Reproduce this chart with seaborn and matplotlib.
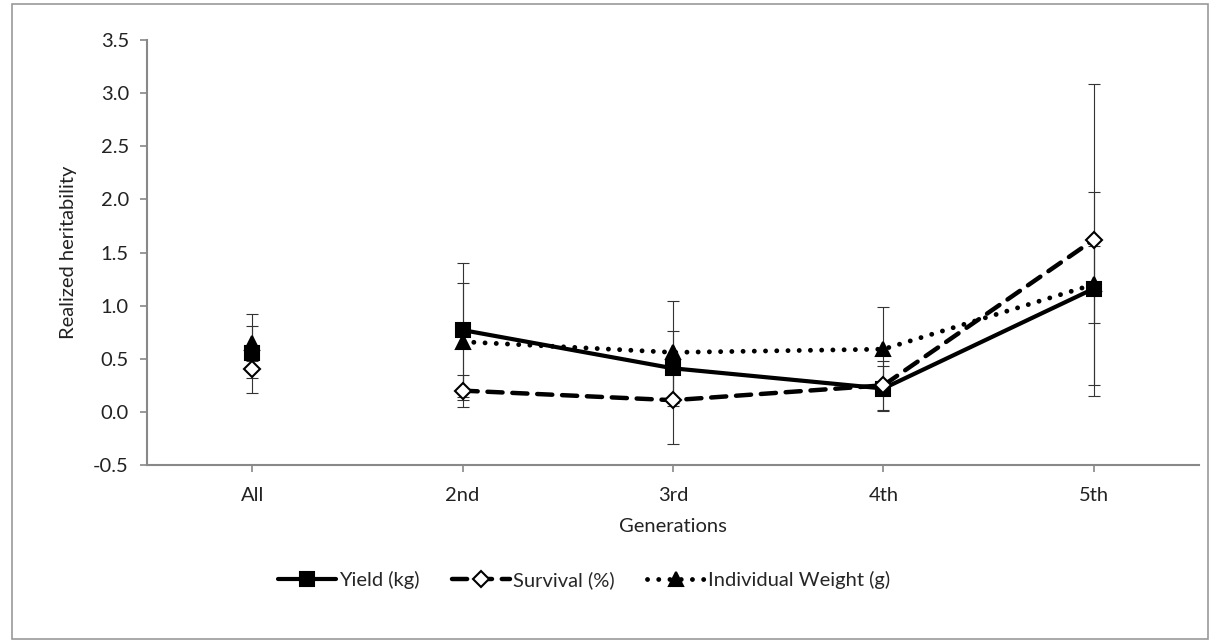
import matplotlib
matplotlib.use("Agg")
import matplotlib.pyplot as plt
import seaborn as sns
import pandas as pd
import numpy as np
from matplotlib.patches import Rectangle
from matplotlib.lines import Line2D

categories = ["All", "2nd", "3rd", "4th", "5th"]
yield_vals = [0.55, 0.77, 0.41, 0.22, 1.16]
yield_err = [0.37, 0.63, 0.35, 0.21, 0.91]
surv_vals = [0.40, 0.20, 0.11, 0.25, 1.62]
surv_err = [0.08, 0.15, 0.41, 0.23, 1.47]
weight_vals = [0.65, 0.66, 0.56, 0.59, 1.20]
weight_err = [0.16, 0.55, 0.48, 0.40, 0.36]
labels = ["Yield (kg)", "Survival (%)", "Individual Weight (g)"]

sns.set_theme(style="white")
plt.rcParams['font.family'] = ['Lato', 'DejaVu Sans']
FS = 14.5

fig = plt.figure(figsize=(12.13, 6.41), dpi=100)
ax = fig.add_axes([147/1213, 1-465/641, (1199-147)/1213, (465-40)/641])

x = np.arange(len(categories))
# (values, errors, dash pattern, marker, facecolor, label, zorder, linewidth)
series = [
    (yield_vals, yield_err, None, "s", "black", labels[0], 3, 3.0),
    (weight_vals, weight_err, (0.01, 2.3), "^", "black", labels[2], 4, 3.5),
    (surv_vals, surv_err, (3.4, 2.2), "D", "white", labels[1], 5, 3.2),
]

for vals, err, ds, mk, fc, lab, z, lw in series:
    ax.errorbar(x, vals, yerr=err, fmt="none", ecolor="#333333", elinewidth=0.8,
                capsize=4.5, capthick=0.8, zorder=2)

handles = {}
for vals, err, ds, mk, fc, lab, z, lw in series:
    df = pd.DataFrame({"x": x[1:], "y": vals[1:]})
    ms = 10 if mk != "D" else 8
    sns.lineplot(data=df, x="x", y="y", ax=ax, color="black",
                 linewidth=lw, marker=mk, markersize=ms, markerfacecolor=fc,
                 markeredgecolor="black", markeredgewidth=1.5, zorder=z)
    ln = ax.lines[-1]
    if ds is not None:
        ln.set_dashes(ds)
        ln.set_dash_capstyle("round")
    ax.plot([x[0]], [vals[0]], linestyle="none", marker=mk, markersize=ms,
            markerfacecolor=fc, markeredgecolor="black", markeredgewidth=1.5, zorder=z)
    h = Line2D([], [], color="black", linewidth=lw,
               marker=mk, markersize=ms, markerfacecolor=fc,
               markeredgecolor="black", markeredgewidth=1.5)
    if ds is not None:
        h.set_dashes(ds)
        h.set_dash_capstyle("round")
    handles[lab] = h

ax.set_xlim(-0.5, 4.5)
ax.set_ylim(-0.5, 3.5)
yt = np.arange(-0.5, 3.51, 0.5)
ax.set_yticks(yt)
ax.set_yticklabels([f"{v:.1f}" for v in yt])
ax.set_xticks(x)
ax.set_xticklabels(categories)
ax.set_xlabel("Generations", fontsize=FS, labelpad=10, color="#222222")
ax.set_ylabel("Realized heritability", fontsize=FS, labelpad=12, color="#222222")
ax.tick_params(axis="both", labelsize=FS, colors="#888888", labelcolor="#222222",
               length=5, width=1.2, direction="out", left=True, bottom=True)
ax.tick_params(axis="y", pad=8)
ax.tick_params(axis="x", pad=11)
for s in ["top", "right"]:
    ax.spines[s].set_visible(False)
for s in ["left", "bottom"]:
    ax.spines[s].set_color("#888888")
    ax.spines[s].set_linewidth(1.5)

leg = fig.legend([handles[l] for l in labels], labels, loc="center",
                 bbox_to_anchor=(584/1213, 1-580/641), ncol=3, frameon=False,
                 fontsize=FS, handlelength=2.9, columnspacing=1.6, handletextpad=0.15)

fig.patches.append(Rectangle((12/1213, 2/641), (1208-12)/1213, (637-2)/641,
                             transform=fig.transFigure, fill=False,
                             edgecolor="#999999", linewidth=1.2))

fig.savefig("out.png", dpi=100)
